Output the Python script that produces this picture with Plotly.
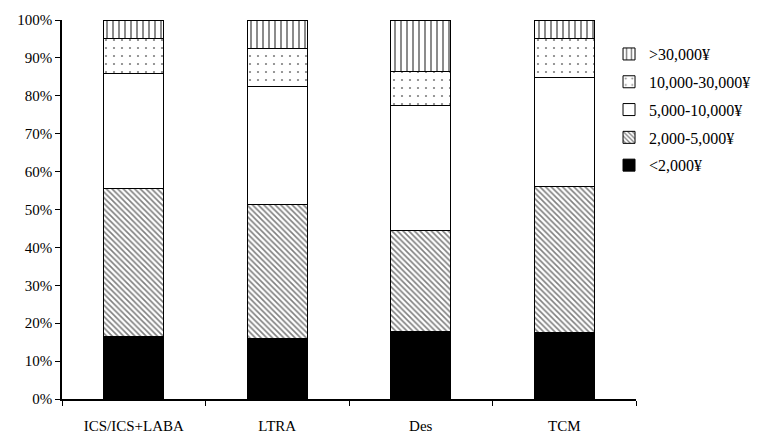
import plotly.graph_objects as go

categories = ["ICS/ICS+LABA", "LTRA", "Des", "TCM"]
series_names = ["<2,000¥", "2,000-5,000¥", "5,000-10,000¥", "10,000-30,000¥", ">30,000¥"]
lt_2000 = [16.5, 16.0, 17.8, 17.5]
v_2000_5000 = [39.1, 35.2, 26.6, 38.5]
v_5000_10000 = [30.2, 31.2, 33.0, 28.8]
v_10000_30000 = [9.2, 10.0, 9.0, 10.2]
gt_30000 = [5.0, 7.6, 13.6, 5.0]
tick_vals = [0, 10, 20, 30, 40, 50, 60, 70, 80, 90, 100]
tick_text = [f"{v}%" for v in tick_vals]

series = [lt_2000, v_2000_5000, v_5000_10000, v_10000_30000, gt_30000]
patterns = [
    dict(shape="", fgcolor="black"),
    dict(shape="\\", fgcolor="black", bgcolor="white", size=4, solidity=0.4),
    dict(shape="", fgcolor="white"),
    dict(shape=".", fgcolor="black", bgcolor="white", size=8, solidity=0.06),
    dict(shape="|", fgcolor="black", bgcolor="white", size=6, solidity=0.3),
]
colors = ["black", "white", "white", "white", "white"]

fig = go.Figure()
n = len(series)
for i, (name, vals) in enumerate(zip(series_names, series)):
    fig.add_trace(go.Bar(
        x=categories, y=vals, name=name,
        legendgroup=str(i), legendrank=1000 + (n - i),
        marker=dict(color=colors[i], line=dict(color="black", width=1), pattern=patterns[i]),
    ))

font = dict(family="Liberation Serif, Times New Roman, serif", size=15, color="black")
fig.update_layout(
    barmode="stack",
    bargap=0.58,
    width=767, height=434,
    margin=dict(l=54, r=139, t=12, b=43),
    paper_bgcolor="white", plot_bgcolor="white",
    font=font,
    showlegend=True,
    legend=dict(
        x=0.953, y=0.955, xanchor="left", yanchor="top",
        traceorder="grouped", tracegroupgap=4,
        font=dict(family="Liberation Serif, Times New Roman, serif", size=16, color="black"),
        itemwidth=30, bgcolor="rgba(0,0,0,0)",
    ),
)
fig.update_xaxes(
    showline=True, linecolor="black", linewidth=1.5,
    ticks="outside", tickson="boundaries", ticklen=5, tickcolor="black",
    showgrid=False, tickfont=font, automargin=False, ticklabelstandoff=12,
)
fig.update_yaxes(
    range=[0, 100], tickmode="array", tickvals=tick_vals, ticktext=tick_text,
    showline=True, linecolor="black", linewidth=1.5,
    ticks="outside", ticklen=5, tickcolor="black",
    showgrid=False, zeroline=False, tickfont=font, automargin=False,
)
fig.write_html("out.html")
